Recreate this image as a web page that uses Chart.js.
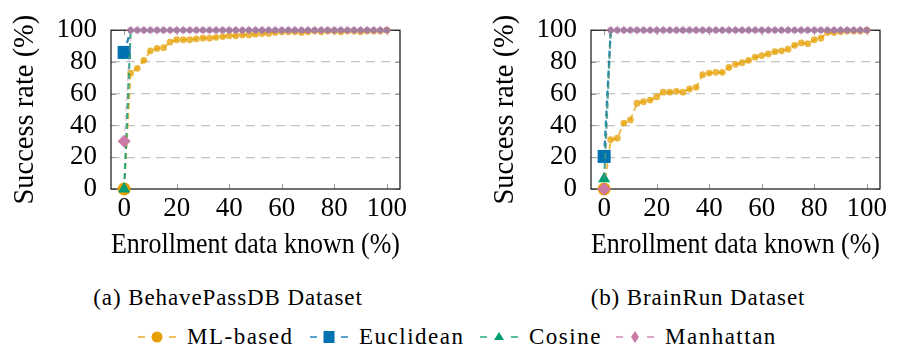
<!DOCTYPE html>
<html><head><meta charset="utf-8">
<script src="https://cdn.jsdelivr.net/npm/chart.js@4.4.1/dist/chart.umd.min.js"></script>
<style>
html,body{margin:0;padding:0;background:#fff;}
body{width:904px;height:352px;position:relative;overflow:hidden;font-family:'Liberation Serif',serif;color:#000;}
.pane{position:absolute;top:0;width:420px;height:265px;}
#pa{left:0px}
#pb{left:480px}
.cap{position:absolute;top:284px;width:400px;text-align:center;font-size:23px;letter-spacing:0.9px;white-space:nowrap;line-height:28px;}
.lgs{position:absolute;top:327px;width:40px;height:20px;}
.lgt{position:absolute;top:323px;font-size:23px;letter-spacing:1.5px;white-space:nowrap;line-height:28px;}
</style></head><body>
<div class="pane" id="pa"><canvas id="ca" width="420" height="265"></canvas></div>
<div class="pane" id="pb"><canvas id="cb" width="420" height="265"></canvas></div>
<div class="cap" id="capA" style="left:28px">(a) BehavePassDB Dataset</div>
<div class="cap" id="capB" style="left:498px">(b) BrainRun Dataset</div>
<div id="legend"></div>
<script>
// ---------- data ----------
const xKnown = [0, 2.5, 5, 7.5, 10, 12.5, 15, 17.5, 20, 22.5, 25, 27.5, 30, 32.5, 35, 37.5, 40, 42.5, 45, 47.5, 50,
  52.5, 55, 57.5, 60, 62.5, 65, 67.5, 70, 72.5, 75, 77.5, 80, 82.5, 85, 87.5, 90, 92.5, 95, 97.5, 100];
const xTickValues = [0, 20, 40, 60, 80, 100];
const yTickValues = [0, 20, 40, 60, 80, 100];
const seriesNames = ['ML-based', 'Euclidean', 'Cosine', 'Manhattan'];

// (a) BehavePassDB
const mlA = [0, 73, 76, 81, 87, 88.5, 89, 92.5, 94, 94, 94, 94.5, 95, 95, 95.5, 96, 96.5, 96.5, 97, 97, 97.5,
  98, 98, 98.5, 99, 99, 99, 98.5, 99, 99.5, 99, 99.5, 99.5, 99, 99.5, 99.5, 99, 99.5, 99.5, 99.5, 100];
const euclidA = [86, 100, 100, 100, 100, 100, 100, 100, 100, 100, 100, 100, 100, 100, 100, 100, 100, 100, 100, 100, 100,
  100, 100, 100, 100, 100, 100, 100, 100, 100, 100, 100, 100, 100, 100, 100, 100, 100, 100, 100, 100];
const cosineA = [0, 100, 100, 100, 100, 100, 100, 100, 100, 100, 100, 100, 100, 100, 100, 100, 100, 100, 100, 100, 100,
  100, 100, 100, 100, 100, 100, 100, 100, 100, 100, 100, 100, 100, 100, 100, 100, 100, 100, 100, 100];
const manhattanA = [30, 100, 100, 100, 100, 100, 100, 100, 100, 100, 100, 100, 100, 100, 100, 100, 100, 100, 100, 100, 100,
  100, 100, 100, 100, 100, 100, 100, 100, 100, 100, 100, 100, 100, 100, 100, 100, 100, 100, 100, 100];

// (b) BrainRun
const mlB = [0, 31, 32, 41.5, 43.5, 54, 55, 56, 58, 61, 61, 61.5, 61, 63, 64, 72, 73, 73.5, 73.5, 76.5, 78.5,
  79.5, 81, 83, 84, 85, 86.5, 87, 88, 90.5, 92, 91.5, 94, 95, 98.5, 98.5, 99, 99.5, 99.5, 99.5, 100];
const euclidB = [20.5, 100, 100, 100, 100, 100, 100, 100, 100, 100, 100, 100, 100, 100, 100, 100, 100, 100, 100, 100, 100,
  100, 100, 100, 100, 100, 100, 100, 100, 100, 100, 100, 100, 100, 100, 100, 100, 100, 100, 100, 100];
const cosineB = [6.5, 100, 100, 100, 100, 100, 100, 100, 100, 100, 100, 100, 100, 100, 100, 100, 100, 100, 100, 100, 100,
  100, 100, 100, 100, 100, 100, 100, 100, 100, 100, 100, 100, 100, 100, 100, 100, 100, 100, 100, 100];
const manhattanB = [0, 100, 100, 100, 100, 100, 100, 100, 100, 100, 100, 100, 100, 100, 100, 100, 100, 100, 100, 100, 100,
  100, 100, 100, 100, 100, 100, 100, 100, 100, 100, 100, 100, 100, 100, 100, 100, 100, 100, 100, 100];

// ---------- styles ----------
const seriesRGB = [[230, 159, 0], [0, 114, 178], [0, 158, 115], [204, 121, 167]];
const lineAlpha = [0.75, 0.85, 0.8, 0.35];
const lineWidth = [1.8, 2.2, 2.2, 1.6];
const markerStyles = ['circle', 'rect', 'triangle', 'rectRot'];
const bigRadius = [6.5, 9.2, 7, 6.5];
const smallRadius = [3.4, 3.4, 3.4, 4.4];
const smallAlpha = [0.75, 0.9, 0.9, 0.78];
const rgba = (c, a) => `rgba(${c[0]},${c[1]},${c[2]},${a})`;
const FONT = "'Liberation Serif', serif";

Chart.defaults.font.family = FONT;
Chart.defaults.color = '#000';

const framePlugin = {
  id: 'frame',
  beforeDatasetsDraw(chart) {
    const {ctx, chartArea: a, scales: {x, y}} = chart;
    ctx.save();
    ctx.strokeStyle = '#9a9a9a';
    ctx.lineWidth = 1;
    ctx.setLineDash([]);
    ctx.beginPath();
    for (const v of xTickValues) {
      const px = Math.round(x.getPixelForValue(v)) + 0.5;
      ctx.moveTo(px, a.bottom); ctx.lineTo(px, a.bottom - 5);
      ctx.moveTo(px, a.top); ctx.lineTo(px, a.top + 5);
    }
    for (const v of yTickValues) {
      const py = Math.round(y.getPixelForValue(v)) + 0.5;
      ctx.moveTo(a.left, py); ctx.lineTo(a.left + 5, py);
      ctx.moveTo(a.right, py); ctx.lineTo(a.right - 5, py);
    }
    ctx.stroke();
    ctx.strokeStyle = '#111';
    ctx.lineWidth = 1.2;
    ctx.strokeRect(a.left, a.top, a.right - a.left, a.bottom - a.top);
    ctx.restore();
  }
};

function makeChart(id, series) {
  const datasets = seriesNames.map((name, i) => ({
    label: name,
    data: xKnown.map((xv, j) => ({x: xv, y: series[i][j]})),
    borderColor: rgba(seriesRGB[i], lineAlpha[i]),
    backgroundColor: rgba(seriesRGB[i], 0.7),
    borderWidth: lineWidth[i],
    borderDash: [6, 4],
    pointStyle: markerStyles[i],
    pointRadius: c => c.dataIndex === 0 ? bigRadius[i] : smallRadius[i],
    pointBackgroundColor: c => c.dataIndex === 0 ? rgba(seriesRGB[i], 1) : rgba(seriesRGB[i], smallAlpha[i]),
    pointBorderWidth: 0,
    pointBorderColor: 'rgba(0,0,0,0)',
    order: 4 - i,
    clip: false,
    tension: 0
  }));
  return new Chart(document.getElementById(id), {
    type: 'line',
    data: {datasets},
    plugins: [framePlugin],
    options: {
      responsive: false,
      animation: false,
      events: [],
      layout: {padding: {top: 16, right: 20, left: 0, bottom: 0}},
      plugins: {legend: {display: false}, tooltip: {enabled: false}},
      scales: {
        x: {
          type: 'linear', min: -5, max: 105,
          afterBuildTicks: s => { s.ticks = xTickValues.map(v => ({value: v})); },
          afterFit: s => { s.height = 76; },
          grid: {display: false, drawTicks: false},
          border: {display: false},
          ticks: {padding: 4, color: '#000', maxRotation: 0, autoSkip: false, font: {size: 27, lineHeight: 1.2}},
          title: {display: true, text: 'Enrollment data known (%)', color: '#000',
                  font: {size: 28.5, lineHeight: 1.2}, padding: {top: 0, bottom: 2}}
        },
        y: {
          min: 0, max: 100,
          afterBuildTicks: s => { s.ticks = yTickValues.map(v => ({value: v})); },
          afterFit: s => { s.width = 111; },
          grid: {
            color: c => (c.tick && (c.tick.value === 0 || c.tick.value === 100)) ? 'rgba(0,0,0,0)' : '#c4c4c4',
            lineWidth: 1.2, drawTicks: false
          },
          border: {display: false, dash: [9, 6]},
          ticks: {padding: 14, color: '#000', autoSkip: false, font: {size: 27, lineHeight: 1.2}},
          title: {display: true, text: 'Success rate (%)', color: '#000',
                  font: {size: 28.5, lineHeight: 1.2}, padding: {top: 8, bottom: 0}}
        }
      }
    }
  });
}

makeChart('ca', [mlA, euclidA, cosineA, manhattanA]);
makeChart('cb', [mlB, euclidB, cosineB, manhattanB]);

// ---------- legend (shared, below both panels) ----------
const legendTextLeft = [187, 359, 529, 665];
function markerSVG(style, col) {
  const c = rgba(col, 1);
  if (style === 'circle') return `<circle cx="20" cy="10" r="5.5" fill="${c}"/>`;
  if (style === 'rect') return `<rect x="14.5" y="4" width="11" height="12" fill="${c}"/>`;
  if (style === 'triangle') return `<polygon points="20,5 25,13 15,13" fill="${c}"/>`;
  return `<polygon points="20,4 24,10 20,16 16,10" fill="${c}"/>`;
}
const lg = document.getElementById('legend');
seriesNames.forEach((name, i) => {
  const col = rgba(seriesRGB[i], 1);
  const s = document.createElement('div');
  s.className = 'lgs';
  s.style.left = (legendTextLeft[i] - 50) + 'px';
  s.innerHTML = `<svg width="40" height="20" viewBox="0 0 40 20">
    <line x1="1" y1="10" x2="8" y2="10" stroke="${col}" stroke-width="1.3"/>
    <line x1="32" y1="10" x2="39" y2="10" stroke="${col}" stroke-width="1.3"/>
    ${markerSVG(markerStyles[i], seriesRGB[i])}</svg>`;
  lg.appendChild(s);
  const t = document.createElement('div');
  t.className = 'lgt';
  t.style.left = legendTextLeft[i] + 'px';
  t.textContent = name;
  lg.appendChild(t);
});
</script>
</body></html>
